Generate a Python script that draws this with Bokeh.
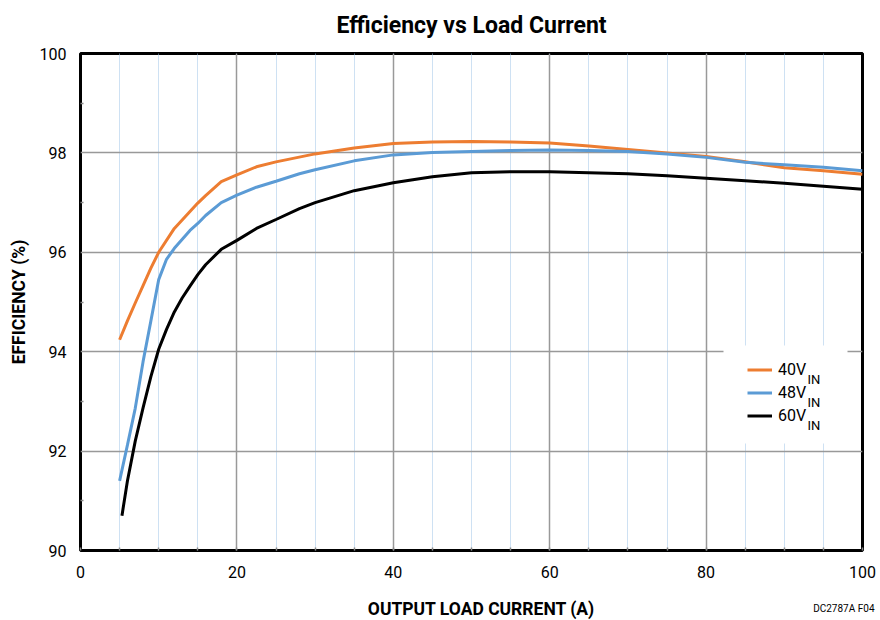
from bokeh.plotting import figure
from bokeh.models import (Range1d, FixedTicker, Legend, LegendItem, Label,
                          BoxAnnotation)
from bokeh.embed import file_html
from bokeh.resources import INLINE

# ---- data ----
load_40 = [5, 6, 7, 8, 9, 10, 12, 14, 15, 16, 18, 20, 22.5, 25, 30, 35, 40, 45, 50, 55, 60, 65, 70, 75, 80, 85, 90, 95, 100]
eff_40 = [94.24, 94.62, 94.98, 95.33, 95.68, 96.0, 96.48, 96.82, 96.99, 97.14, 97.42, 97.56, 97.72, 97.82, 97.98, 98.1, 98.19, 98.22, 98.23, 98.22, 98.2, 98.14, 98.07, 98.0, 97.93, 97.82, 97.7, 97.64, 97.57]

load_48 = [5, 6, 7, 8, 9, 10, 11, 12, 14, 15, 16, 18, 20, 22.5, 25, 28, 30, 35, 40, 45, 50, 55, 60, 65, 70, 75, 80, 85, 90, 95, 100]
eff_48 = [91.4, 92.12, 92.86, 93.8, 94.62, 95.45, 95.86, 96.08, 96.44, 96.58, 96.74, 97.0, 97.15, 97.31, 97.43, 97.58, 97.66, 97.84, 97.96, 98.01, 98.03, 98.05, 98.06, 98.05, 98.03, 97.98, 97.91, 97.81, 97.76, 97.71, 97.64]

load_60 = [5.3, 6, 7, 8, 9, 10, 11, 12, 13, 14, 15, 16, 18, 20, 22.5, 25, 28, 30, 35, 40, 45, 50, 55, 60, 65, 70, 75, 80, 85, 90, 95, 100]
eff_60 = [90.7, 91.4, 92.2, 92.87, 93.5, 94.05, 94.45, 94.8, 95.08, 95.32, 95.55, 95.75, 96.06, 96.24, 96.48, 96.66, 96.88, 97.0, 97.24, 97.4, 97.52, 97.6, 97.62, 97.62, 97.6, 97.58, 97.54, 97.49, 97.44, 97.39, 97.33, 97.27]

series_names = ["40V", "48V", "60V"]
series_sub = "IN"
series_colors = ["#ED7D31", "#5B9BD5", "#000000"]

x_ticks = [0, 20, 40, 60, 80, 100]
y_ticks = [90, 92, 94, 96, 98, 100]

title_text = "Efficiency vs Load Current"
x_label = "OUTPUT LOAD CURRENT (A)"
y_label = "EFFICIENCY (%)"
note_text = "DC2787A F04"

FONT = "Roboto"

p = figure(width=876, height=620, output_backend="svg", toolbar_location=None,
           x_range=Range1d(0, 100), y_range=Range1d(90, 100),
           min_border_left=80, min_border_right=14, min_border_top=53, min_border_bottom=70,
           title=title_text)

p.title.text_font = FONT
p.title.text_font_size = "23px"
p.title.text_font_style = "bold"
p.title.align = "center"
p.title.vertical_align = "top"
p.title.text_color = "#000000"
p.title.standoff = 23.5

p.outline_line_color = "#000000"
p.outline_line_width = 3
p.background_fill_color = "#ffffff"
p.border_fill_color = "#ffffff"

# axes
for ax in (p.xaxis[0], p.yaxis[0]):
    ax.axis_line_color = None
    ax.major_tick_in = 0
    ax.major_tick_out = 0
    ax.minor_tick_in = 3
    ax.minor_tick_out = 0
    ax.minor_tick_line_color = "#888888"
    ax.minor_tick_line_width = 1.5
    ax.major_label_text_font = FONT
    ax.major_label_text_font_size = "16px"
    ax.major_label_text_color = "#000000"
    ax.axis_label_text_font = FONT
    ax.axis_label_text_font_size = "17.5px"
    ax.axis_label_text_font_style = "bold"
    ax.axis_label_text_color = "#000000"

p.xaxis.ticker = FixedTicker(ticks=x_ticks, minor_ticks=list(range(0, 101, 5)))
p.yaxis.ticker = FixedTicker(ticks=y_ticks, minor_ticks=list(range(91, 100, 2)))
p.yaxis.axis_label = y_label
p.xaxis.major_label_standoff = 15
p.yaxis.major_label_standoff = 14
p.yaxis.axis_label_standoff = 8

# grids
p.xgrid.grid_line_color = "#999999"
p.xgrid.grid_line_width = 1.5
p.xgrid.minor_grid_line_color = "#9DC3E6"
p.xgrid.minor_grid_line_dash = "1 1"
p.xgrid.minor_grid_line_width = 1
p.ygrid.grid_line_color = "#999999"
p.ygrid.grid_line_width = 1.5

# curves
r40 = p.line(load_40, eff_40, line_color=series_colors[0], line_width=3)
r48 = p.line(load_48, eff_48, line_color=series_colors[1], line_width=3)
r60 = p.line(load_60, eff_60, line_color=series_colors[2], line_width=3)

# legend background
box = BoxAnnotation(left=643, right=767, bottom=107, top=205,
                    left_units="screen", right_units="screen",
                    bottom_units="screen", top_units="screen",
                    fill_color="#ffffff", fill_alpha=1, line_alpha=0)
p.add_layout(box)

legend = Legend(items=[LegendItem(label=n, renderers=[r]) for n, r in zip(series_names, [r40, r48, r60])],
                location=(667, 123), margin=0, padding=0, spacing=0,
                glyph_width=25, glyph_height=23, label_height=23, label_standoff=6,
                background_fill_alpha=0, border_line_alpha=0,
                label_text_font=FONT, label_text_font_size="16px", label_text_color="#000000")
p.add_layout(legend)

for i in range(3):
    p.add_layout(Label(x=727, y=171.5 - 23 * i, x_units="screen", y_units="screen",
                       text=series_sub, text_font=FONT, text_font_size="13px",
                       text_baseline="alphabetic", text_align="left", text_color="#000000"))

# x-axis title and figure note, placed in the space below the axis
xlab = Label(x=401, y=-8.5, x_units="screen", y_units="screen", text=x_label,
             text_font=FONT, text_font_size="17.5px", text_font_style="bold",
             text_align="center", text_baseline="middle", text_color="#000000")
p.add_layout(xlab, "below")

note = Label(x=794, y=3.5, x_units="screen", y_units="screen", text=note_text,
             text_font=FONT, text_font_size="10px", text_align="right",
             text_baseline="middle", text_color="#000000")
p.add_layout(note, "below")

open("out.html", "w").write(file_html(p, INLINE))
